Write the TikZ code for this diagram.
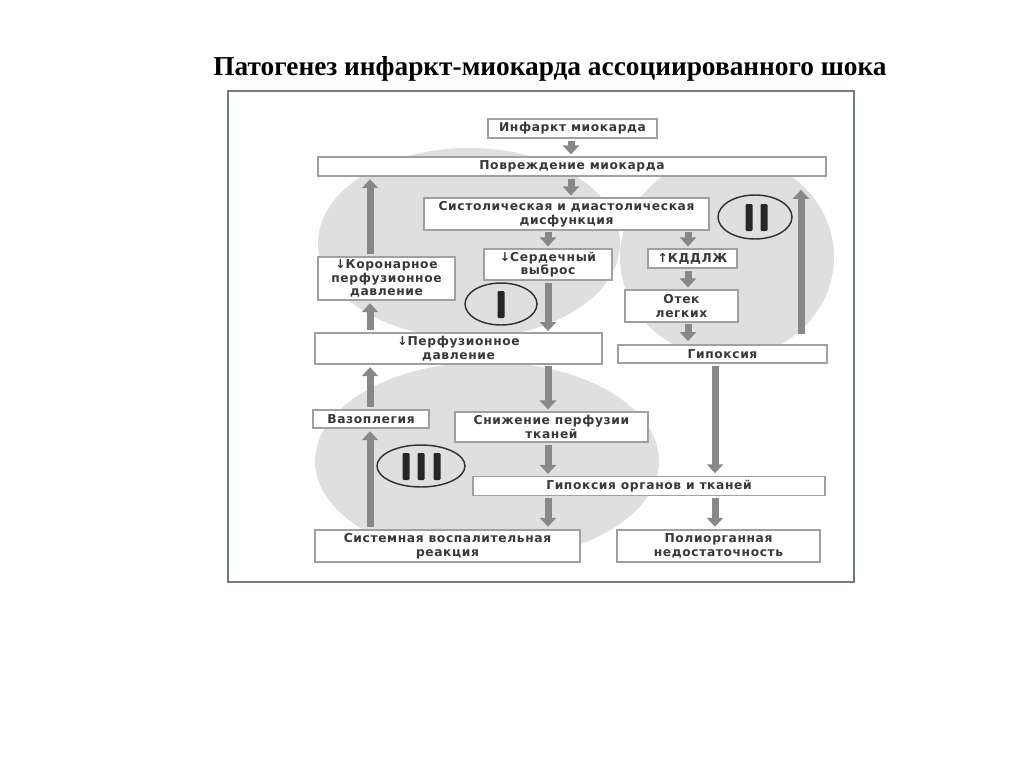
\documentclass[tikz,border=0pt]{standalone}
\usepackage{fontspec}
\setmainfont{Liberation Serif}
\newfontfamily\boxfont[LetterSpace=5]{DejaVu Sans}
\newfontfamily\symfont{DejaVu Sans}
\usetikzlibrary{arrows.meta}
\definecolor{circ}{HTML}{DFDFE0}
\definecolor{arrowc}{HTML}{888888}
\definecolor{boxline}{HTML}{A0A0A0}
\definecolor{framec}{HTML}{6F7B86}
\definecolor{txt}{HTML}{383838}
\newcommand\dn{{\symfont\bfseries↓}}
\newcommand\up{{\symfont\bfseries↑}}
\tikzset{
  box/.style 2 args={draw=boxline, line width=0.8pt, fill=white, text=txt,
    font=\boxfont\bfseries\fontsize{9.2}{10.2}\selectfont, align=center,
    inner sep=0pt, minimum width=#1*0.75pt, minimum height=#2*0.75pt},
  arr/.style={draw=arrowc, line width=5.25pt,
    -{Triangle[length=6.75pt,width=12pt]}},
  bigcirc/.style={fill=circ},
  markring/.style={draw=black!80, line width=1.1pt},
  bar/.style={fill=black!85, rounded corners=0.8pt}
}
\begin{document}
\begin{tikzpicture}[x=0.75pt,y=-0.75pt]
\useasboundingbox (0,0) rectangle (1024,767);
% title
\node (title) at (550,69) {\fontsize{20.5}{24}\selectfont\bfseries Патогенез инфаркт-миокарда ассоциированного шока};
% frame
\draw[framec, line width=1.2pt] (228,91) rectangle (854,582);
% big circles
\fill[bigcirc] (469,243) ellipse [x radius=151, y radius=95];
\fill[bigcirc] (727,257) ellipse [x radius=107, y radius=101];
\fill[bigcirc] (487,461) ellipse [x radius=172, y radius=99];
% markers
\draw[markring] (501,304) ellipse [x radius=36, y radius=21];
\fill[bar] (497.5,291) rectangle (504.5,318);
\draw[markring] (755,217) ellipse [x radius=37, y radius=22];
\fill[bar] (745.5,204) rectangle (752.5,231);
\fill[bar] (760.5,204) rectangle (767.5,231);
\draw[markring] (421,466) ellipse [x radius=44, y radius=21];
\fill[bar] (402.5,453) rectangle (409.5,480);
\fill[bar] (417.5,453) rectangle (424.5,480);
\fill[bar] (433.5,453) rectangle (440.5,480);
% boxes
\node[box={169}{19}] (inf) at (572.5,128.5) {Инфаркт миокарда};
\node[box={508}{19}] (dmg) at (572,166.5) {Повреждение миокарда};
\node[box={285}{32}] (sd) at (566.5,214) {Систолическая и диастолическая\\дисфункция};
\node[box={128}{31}] (vyb) at (548,264.5) {\dn Сердечный\\выброс};
\node[box={89}{19}] (kdd) at (692.5,258.5) {\up КДДЛЖ};
\node[box={113}{32}] (otek) at (681.5,306) {Отек\\легких};
\node[box={209}{18}] (gip) at (722.5,354) {Гипоксия};
\node[box={137}{43}] (kor) at (386.5,278.5) {\dn Коронарное\\перфузионное\\давление};
\node[box={287}{31}] (perf) at (458.5,348.5) {\dn Перфузионное\\давление};
\node[box={116}{18}] (vazo) at (371,419) {Вазоплегия};
\node[box={193}{30}] (snizh) at (551.5,427) {Снижение перфузии\\тканей};
\node[box={352}{19}] (gorg) at (649,486) {Гипоксия органов и тканей};
\node[box={265}{32}] (sys) at (447.5,546) {Системная воспалительная\\реакция};
\node[box={203}{32}] (poli) at (718.5,546) {Полиорганная\\недостаточность};
% arrow columns
\coordinate (cA) at (571,0);
\coordinate (cB) at (548,0);
\coordinate (cC) at (688,0);
\coordinate (cD) at (370,0);
\coordinate (cE) at (801,0);
\coordinate (cF) at (715,0);
% connectors
\draw[arr, shorten <=2pt, shorten >=1.5pt] (inf.south -| cA) -- (dmg.north -| cA);
\draw[arr, shorten <=2pt, shorten >=1.5pt] (dmg.south -| cA) -- (sd.north -| cA);
\draw[arr, shorten <=1pt, shorten >=1.5pt] (sd.south -| cB) -- (vyb.north -| cB);
\draw[arr, shorten <=1pt, shorten >=1.5pt] (sd.south -| cC) -- (kdd.north -| cC);
\draw[arr, shorten <=1.5pt, shorten >=1.5pt] (kdd.south -| cC) -- (otek.north -| cC);
\draw[arr, shorten <=1pt, shorten >=2.5pt] (otek.south -| cC) -- (gip.north -| cC);
\draw[arr, shorten <=2pt, shorten >=1pt] (vyb.south -| cB) -- (perf.north -| cB);
\draw[arr, shorten <=1pt, shorten >=1.5pt] (perf.south -| cB) -- (snizh.north -| cB);
\draw[arr, shorten <=2pt, shorten >=1.5pt] (snizh.south -| cB) -- (gorg.north -| cB);
\draw[arr, shorten <=1.5pt, shorten >=2pt] (gorg.south -| cB) -- (sys.north -| cB);
\draw[arr, shorten <=1.5pt, shorten >=2pt] (gip.south -| cF) -- (gorg.north -| cF);
\draw[arr, shorten <=1.5pt, shorten >=2pt] (gorg.south -| cF) -- (poli.north -| cF);
\draw[arr, shorten <=2pt, shorten >=2pt] (kor.north -| cD) -- (dmg.south -| cD);
\draw[arr, shorten <=2pt, shorten >=2pt] (perf.north -| cD) -- (kor.south -| cD);
\draw[arr, shorten <=2pt, shorten >=2pt] (vazo.north -| cD) -- (perf.south -| cD);
\draw[arr, shorten <=2pt, shorten >=2pt] (sys.north -| cD) -- (vazo.south -| cD);
\draw[arr, shorten <=7.5pt, shorten >=10pt] (gip.north -| cE) -- (dmg.south -| cE);
\end{tikzpicture}
\end{document}
